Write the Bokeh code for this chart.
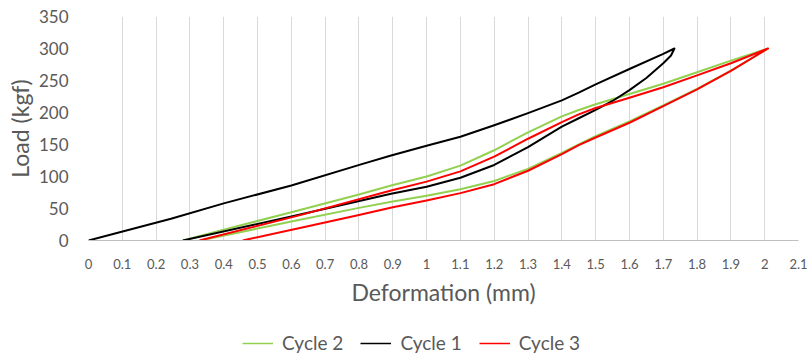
from bokeh.plotting import figure
from bokeh.layouts import column
from bokeh.models import Range1d, FixedTicker, Legend, LegendItem
from bokeh.embed import file_html
from bokeh.resources import INLINE

# ---- data ----
x_ticks = [0, 0.1, 0.2, 0.3, 0.4, 0.5, 0.6, 0.7, 0.8, 0.9, 1.0,
           1.1, 1.2, 1.3, 1.4, 1.5, 1.6, 1.7, 1.8, 1.9, 2.0, 2.1]
x_tick_labels = ["0", "0.1", "0.2", "0.3", "0.4", "0.5", "0.6", "0.7", "0.8", "0.9", "1",
                 "1.1", "1.2", "1.3", "1.4", "1.5", "1.6", "1.7", "1.8", "1.9", "2", "2.1"]
y_ticks = [0, 50, 100, 150, 200, 250, 300, 350]

# Cycle 1 (black): loading branch then unloading branch
c1_x = [0, 0.244, 0.4, 0.6, 0.806, 0.895, 1.0, 1.1, 1.2, 1.3, 1.4, 1.45, 1.5, 1.6, 1.7, 1.733,
        1.723, 1.7, 1.65, 1.6, 1.55, 1.5, 1.45, 1.4, 1.3, 1.2, 1.1, 1.0, 0.895, 0.6, 0.279]
c1_y = [0, 34, 58, 86, 119, 132.8, 148, 162, 180, 199, 219, 231, 244, 268, 291.7, 300,
        289, 277, 254, 235, 218, 204, 191, 178, 146, 118, 98, 84, 73, 37.5, 0]

# Cycle 2 (green)
c2_x = [0.279, 0.4, 0.6, 0.8, 0.895, 1.0, 1.1, 1.2, 1.3, 1.4, 1.45, 1.5, 1.6, 1.7, 1.8, 1.9, 2.01,
        1.9, 1.8, 1.7, 1.6, 1.5, 1.45, 1.4, 1.3, 1.2, 1.1, 1.0, 0.9, 0.8, 0.6, 0.33]
c2_y = [0, 17, 44, 72, 86, 100, 117, 141, 169, 194, 204, 213, 229, 245, 263, 281, 300,
        265.6, 237, 211, 186, 163, 150, 137, 112, 93, 80, 70, 61, 51, 29.7, 0]

# Cycle 3 (red)
c3_x = [0.328, 0.629, 0.895, 1.0, 1.1, 1.2, 1.3, 1.4, 1.45, 1.5, 1.6, 1.7, 1.8, 1.9, 2.01,
        1.9, 1.8, 1.7, 1.6, 1.5, 1.45, 1.4, 1.3, 1.2, 1.1, 1.0, 0.9, 0.8, 0.659, 0.456]
c3_y = [0, 40, 78, 92, 108, 131, 159, 185, 197, 207, 223, 239.5, 258, 277, 300,
        265, 236, 210, 184, 161, 149, 135, 109, 88, 74, 62.5, 52, 40, 23.4, 0]

series_names = ["Cycle 2", "Cycle 1", "Cycle 3"]
series_colors = ["#92D050", "#000000", "#FF0000"]

FONT = "Lato"
TXT = "#595959"

p = figure(width=809, height=310, output_backend="svg", toolbar_location=None,
           x_range=Range1d(0, 2.1), y_range=Range1d(0, 350),
           min_border_left=88, min_border_right=11, min_border_top=16, min_border_bottom=70)
p.outline_line_color = None
p.background_fill_color = "white"
p.border_fill_color = "white"

p.xaxis.ticker = FixedTicker(ticks=x_ticks)
p.xaxis.major_label_overrides = {t: l for t, l in zip(x_ticks, x_tick_labels)}
p.yaxis.ticker = FixedTicker(ticks=y_ticks)

p.xgrid.ticker = FixedTicker(ticks=x_ticks)
p.xgrid.grid_line_color = "#D9D9D9"
p.ygrid.grid_line_color = None

for ax in (p.xaxis[0], p.yaxis[0]):
    ax.major_tick_line_color = None
    ax.minor_tick_line_color = None
    ax.major_label_text_font = FONT
    ax.major_label_text_color = TXT
    ax.axis_label_text_font = FONT
    ax.axis_label_text_color = TXT
    ax.axis_label_text_font_style = "normal"

p.xaxis.axis_line_color = "#BFBFBF"
p.yaxis.axis_line_color = None
p.xaxis.major_label_text_font_size = "13px"
p.yaxis.major_label_text_font_size = "17px"
p.xaxis.major_label_standoff = 12
p.yaxis.major_label_standoff = 14
p.xaxis.axis_label = "Deformation (mm)"
p.yaxis.axis_label = "Load (kgf)"
p.xaxis.axis_label_text_font_size = "23px"
p.yaxis.axis_label_text_font_size = "23px"
p.xaxis.axis_label_standoff = 6
p.yaxis.axis_label_standoff = 2

r2 = p.line(c2_x, c2_y, line_color=series_colors[0], line_width=2, line_join="round")
r1 = p.line(c1_x, c1_y, line_color=series_colors[1], line_width=2, line_join="round")
r3 = p.line(c3_x, c3_y, line_color=series_colors[2], line_width=2, line_join="round")

# legend strip below the chart (its frame is aligned with the chart's frame)
q = figure(width=809, height=47, output_backend="svg", toolbar_location=None,
           x_range=Range1d(0, 1), y_range=Range1d(0, 1),
           min_border=0, x_axis_type=None, y_axis_type=None)
q.outline_line_color = None
q.grid.grid_line_color = None
q.border_fill_color = "white"
nan = float("nan")
l2 = q.line([nan], [nan], line_color=series_colors[0], line_width=1.5)
l1 = q.line([nan], [nan], line_color=series_colors[1], line_width=1.5)
l3 = q.line([nan], [nan], line_color=series_colors[2], line_width=1.5)

legend = Legend(items=[LegendItem(label=series_names[0], renderers=[l2]),
                       LegendItem(label=series_names[1], renderers=[l1]),
                       LegendItem(label=series_names[2], renderers=[l3])],
                orientation="horizontal", location=(154, 3),
                label_text_font=FONT, label_text_font_size="19px", label_text_color=TXT,
                border_line_color=None, background_fill_alpha=0,
                glyph_width=31, glyph_height=20, label_standoff=9, spacing=17,
                padding=0, margin=0, label_height=20)
q.add_layout(legend, "center")

layout = column(p, q, spacing=0)
open("out.html", "w").write(file_html(layout, INLINE))
